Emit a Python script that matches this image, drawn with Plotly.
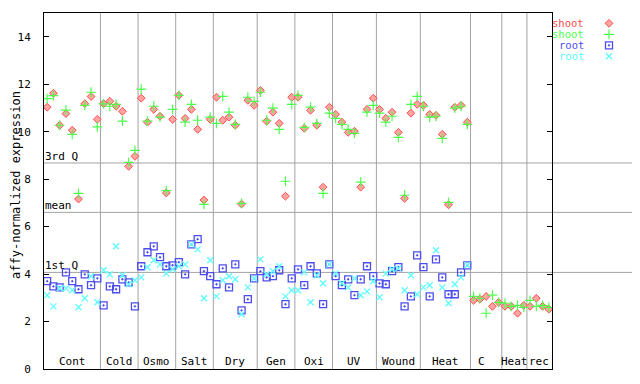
import plotly.graph_objects as go

# ---- data ----
groups = ["Cont", "Cold", "Osmo", "Salt", "Dry", "Gen", "Oxi", "UV", "Wound", "Heat", "C", "Heat", "rec"]
group_sizes = [9, 6, 6, 6, 7, 6, 6, 7, 7, 8, 5, 4, 4]

shoot_red = [
    11.03, 11.62, 10.27, 10.76, 10.06, 7.16, 11.18, 11.48, 10.52,
    11.18, 11.28, 11.07, 10.86, 8.54, 8.96,
    11.41, 10.40, 10.94, 10.65, 7.42, 10.52,
    11.53, 10.56, 10.94, 10.10, 7.12, 10.52,
    11.45, 10.48, 10.61, 10.27, 6.95, 11.32, 11.11,
    11.74, 10.44, 10.82, 10.35, 7.28, 11.45,
    11.45, 10.14, 10.90, 10.27, 7.66, 11.03,
    10.73, 10.40, 9.97, 10.02, 7.66, 10.94, 11.41,
    10.94, 10.56, 10.82, 9.97, 7.19, 10.78, 11.15,
    11.11, 10.73, 10.69, 9.89, 6.92, 11.03, 11.11, 10.40,
    2.89, 2.94, 3.06, 2.64, 2.81,
    2.64, 2.64, 2.35, 2.68,
    2.64, 2.98, 2.64, 2.52,
]
shoot_green = [
    11.39, 11.52, 10.27, 10.91, 9.89, 7.40, 11.11, 11.66, 10.20,
    11.17, 11.07, 11.15, 10.44, 8.71, 9.21,
    11.79, 10.44, 11.07, 10.61, 7.52, 10.94,
    11.53, 10.40, 11.15, 10.48, 6.94, 10.61,
    10.35, 11.49, 10.82, 10.31, 6.98, 11.45, 11.28,
    11.66, 10.48, 10.99, 10.10, 7.91, 11.15,
    11.53, 10.18, 11.03, 10.35, 7.40, 10.78,
    10.56, 10.31, 10.10, 9.93, 7.87, 10.82, 11.11,
    10.78, 10.40, 10.65, 9.76, 7.32, 11.15, 11.49,
    11.07, 10.61, 10.65, 9.72, 7.02, 10.99, 11.07, 10.31,
    3.06, 2.98, 2.35, 3.11, 2.81,
    2.77, 2.64, 2.68, 2.60,
    2.89, 2.64, 2.68, 2.60,
]
root_blue = [
    3.70, 3.48, 3.44, 4.07, 3.70, 3.36, 3.99, 3.53, 3.82,
    2.68, 3.48, 3.36, 3.78, 3.65, 2.64,
    4.33, 4.92, 5.17, 4.71, 4.33, 4.37,
    4.50, 3.99, 5.25, 5.47, 4.12, 3.91,
    3.57, 4.24, 3.44, 4.41, 2.47, 2.94, 3.82,
    4.12, 3.86, 3.91, 4.16, 2.73, 3.82,
    4.20, 3.53, 4.33, 4.03, 2.73, 4.41,
    3.91, 3.53, 3.78, 3.11, 3.78, 4.33, 3.91,
    3.61, 3.57, 4.12, 4.29, 2.64, 3.06, 4.79,
    4.29, 3.06, 4.62, 3.86, 3.15, 3.15, 4.07, 4.37,
]
root_cyan = [
    3.11, 2.64, 3.40, 3.40, 3.32, 2.60, 2.98, 3.91, 2.81,
    4.16, 3.99, 5.17, 3.95, 3.57, 3.74,
    3.86, 4.29, 4.58, 4.41, 4.03, 4.20,
    4.33, 4.41, 5.25, 5.04, 2.98, 4.58,
    3.06, 3.74, 3.91, 3.78, 2.31, 3.44, 3.82,
    4.62, 3.99, 4.12, 4.33, 3.06, 3.32,
    3.32, 4.07, 2.81, 3.95, 3.61, 4.41,
    4.03, 3.61, 3.44, 3.82, 3.11, 3.27, 3.70,
    3.02, 4.03, 4.20, 4.24, 3.32, 3.95, 3.15,
    3.44, 3.53, 5.00, 3.44, 2.77, 3.57, 3.86, 4.37,
]
stat_names = ["3rd Q", "mean", "1st Q"]
stat_values = [8.68, 6.60, 4.07]
legend_names = ["shoot", "shoot", "root", "root"]

RED, GREEN, BLUE, CYAN = "#ff4d4d", "#4dff4d", "#4d4def", "#5cffff"
PINK = "#ffa3a3"
FONT = "DejaVu Sans Mono"
GRID = "#a3a3a3"
FS = 11

n_total = len(shoot_red)
xs = list(range(n_total))

styles = [
    dict(symbol="diamond", size=6, color=PINK, line=dict(color=RED, width=1)),
    dict(symbol="cross-thin-open", size=7, color=GREEN, line=dict(color=GREEN, width=1.2)),
    dict(symbol="square-open-dot", size=7, color=BLUE, line=dict(color=BLUE, width=1.3)),
    dict(symbol="x-thin-open", size=6, color=CYAN, line=dict(color=CYAN, width=1.3)),
]
series = [shoot_red, shoot_green, root_blue, root_cyan]

fig = go.Figure()
for ys, st in zip(series, styles):
    fig.add_trace(go.Scatter(x=xs[:len(ys)], y=ys, mode="markers", marker=st))

# legend keys (drawn in a hidden pixel-space axis to the right of the plot)
leg_rows = [23.3, 34.3, 45.3, 56.3]
leg_cols = [RED, GREEN, BLUE, CYAN]
for r, st in zip(leg_rows, styles):
    fig.add_trace(go.Scatter(x=[609], y=[r], xaxis="x2", yaxis="y2", mode="markers",
                             marker=st, cliponaxis=False))

shapes = []
annotations = []
start = 0
for i, (g, n) in enumerate(zip(groups, group_sizes)):
    end = start + n
    if i < len(groups) - 1:
        shapes.append(dict(type="line", xref="x", yref="paper", x0=end - 0.5, x1=end - 0.5,
                           y0=0, y1=1, line=dict(color=GRID, width=1), layer="below"))
    cx = (start + end - 1) / 2
    if g == "C":
        cx -= 0.7
    annotations.append(dict(x=cx, y=0.3, xref="x", yref="y", text=g, showarrow=False,
                            xanchor="center", yanchor="middle", borderpad=0,
                            font=dict(family=FONT, size=FS, color="black")))
    if g == "C":
        annotations.append(dict(x=cx + 2.7, y=-0.34, xref="x", yref="y", text="suspension",
                                showarrow=False, xanchor="center", yanchor="middle",
                                font=dict(family=FONT, size=FS, color="black")))
    start = end

for name, v in zip(stat_names, stat_values):
    shapes.append(dict(type="line", xref="paper", yref="y", x0=0, x1=1, y0=v, y1=v,
                       line=dict(color=GRID, width=1), layer="below"))
    annotations.append(dict(x=0, y=v, xref="paper", yref="y", text=name, showarrow=False,
                            xanchor="left", yanchor="bottom", xshift=-1, yshift=-2,
                            font=dict(family=FONT, size=FS, color="black")))

for name, r, c in zip(legend_names, leg_rows, leg_cols):
    annotations.append(dict(x=585, y=r, xref="x2", yref="y2", text=name, showarrow=False,
                            xanchor="right", yanchor="middle", borderpad=0,
                            font=dict(family=FONT, size=10.5, color=c)))

# y-axis title: left edge kept inside the figure
annotations.append(dict(x=0, y=0.517, xref="paper", yref="paper", xshift=-36,
                        text="affy-normalized expression", showarrow=False, textangle=-90,
                        xanchor="left", yanchor="middle", borderpad=0,
                        font=dict(family=FONT, size=12, color="black")))

# the page adds an 8px body margin, so the figure is offset by 8px
fig.update_layout(
    width=632, height=376,
    margin=dict(l=36, r=0, t=5, b=15, autoexpand=False),
    paper_bgcolor="white", plot_bgcolor="white",
    showlegend=False,
    shapes=shapes, annotations=annotations,
    xaxis=dict(domain=[0, 508 / 596], range=[-0.5, n_total - 0.5], showticklabels=False,
               showgrid=False, zeroline=False, showline=True, linecolor="black",
               linewidth=1, mirror=True, ticks="", automargin=False),
    yaxis=dict(range=[0, 15], tickvals=[0, 2, 4, 6, 8, 10, 12, 14], ticks="inside",
               ticklen=5, tickcolor="black", showline=True, linecolor="black", linewidth=1,
               mirror="ticks", showgrid=False, zeroline=False, ticklabelstandoff=10,
               automargin=False,
               tickfont=dict(family=FONT, size=FS, color="black")),
    xaxis2=dict(domain=[508 / 596, 1], range=[552, 640], visible=False, anchor="y2",
                automargin=False),
    yaxis2=dict(domain=[0, 1], range=[369, 13], visible=False, anchor="x2",
                automargin=False),
)

fig.write_html("out.html")
